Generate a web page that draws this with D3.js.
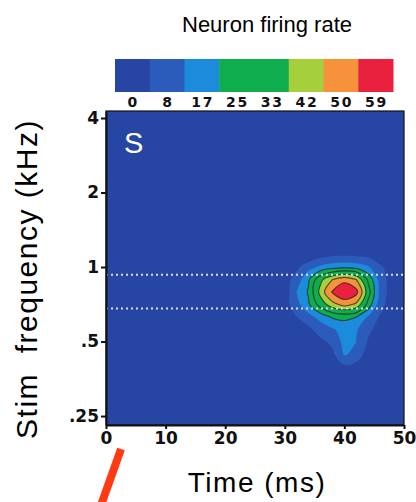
<!DOCTYPE html>
<html lang="en">
<head>
<meta charset="utf-8">
<title>Neuron firing rate</title>
<script src="https://cdn.jsdelivr.net/npm/d3@7"></script>
<style>
  body { margin: 0; background: #fff; }
  svg { display: block; font-family: "Liberation Sans", Arial, sans-serif; }
  .axis text, .legend text { font-family: "DejaVu Sans", sans-serif; font-weight: bold; fill: #111; }
</style>
</head>
<body>
<script>
// colour key
var legendLabels = [0, 8, 17, 25, 33, 42, 50, 59];
var legendColors = ["#2745a3", "#2b5cbb", "#1c8bdc", "#10ad4f", "#10ad4f", "#a6cf3c", "#f7923c", "#e9213f"];

// axes
var timeTicks = [0, 10, 20, 30, 40, 50];
var freqTicks = [4, 2, 1, 0.5, 0.25];

// dotted frequency band
var bandFreqs = [0.93, 0.68];

// firing rate grid (rows = frequency, cols = time)
var timeCols = [26, 28, 30, 32, 34, 36, 38, 40, 42, 44, 46, 48, 50];
var freqRows = [1.26, 1.122, 1.0, 0.891, 0.794, 0.707, 0.63, 0.561, 0.5, 0.445, 0.397, 0.354];
var rates = [
  [0, 0, 0, 0, 0, 0, 0, 0, 0, 0, 0, 0, 0],
  [0, 0, 0, 0, 0, 4, 6, 7, 6, 5, 0, 0, 0],
  [0, 0, 1, 6, 14, 19, 22, 23, 22, 18, 10, 2, 0],
  [0, 0, 4, 12, 24, 40, 50, 56, 50, 31, 14, 3, 0],
  [0, 0, 2, 17, 26, 45, 60, 68, 62, 37, 14, 3, 0],
  [0, 0, 4, 14, 24, 37, 47, 53, 48, 30, 12, 2, 0],
  [0, 0, 2, 8, 14, 20, 26, 27, 25, 16, 7, 0, 0],
  [0, 0, 0, 2, 6, 12, 16, 20, 18, 10, 4, 0, 0],
  [0, 0, 0, 0, 2, 6, 10, 20, 17, 7, 0, 0, 0],
  [0, 0, 0, 0, 0, 0, 6, 18, 14, 3, 0, 0, 0],
  [0, 0, 0, 0, 0, 0, 0, 6, 4, 0, 0, 0, 0],
  [0, 0, 0, 0, 0, 0, 0, 0, 0, 0, 0, 0, 0]
];

// red pointer below the axis, in (time, freq)
var pointerLine = [[2.52, 0.184], [-0.84, 0.109]];

var width = 416, height = 502;
var svg = d3.select("body").append("svg")
    .attr("width", width)
    .attr("height", height);

var x = d3.scaleLinear().domain([0, 50]).range([106, 404]);
var y = d3.scaleLog().base(2).domain([0.23, 4.27]).range([425, 111]);

// title
svg.append("text")
    .attr("x", 267).attr("y", 32)
    .attr("text-anchor", "middle")
    .attr("font-size", 22)
    .text("Neuron firing rate");

// legend
var lx = d3.scaleBand().domain(legendLabels).range([115, 393]);
var legend = svg.append("g").attr("class", "legend");
legend.selectAll("rect")
    .data(legendLabels)
    .enter().append("rect")
    .attr("x", function(d) { return lx(d); })
    .attr("y", 59)
    .attr("width", lx.bandwidth() + 0.5)
    .attr("height", 33)
    .attr("fill", function(d, i) { return legendColors[i]; });
legend.selectAll("text")
    .data(legendLabels)
    .enter().append("text")
    .attr("x", function(d) { return lx(d) + lx.bandwidth() / 2 + 1; })
    .attr("y", 107)
    .attr("text-anchor", "middle")
    .attr("font-size", 14)
    .attr("letter-spacing", 2)
    .text(function(d) { return d; });

// plot background
var plot = svg.append("g");
svg.append("clipPath").attr("id", "clip")
  .append("rect")
    .attr("x", x(0)).attr("y", y(4.27))
    .attr("width", x(50) - x(0)).attr("height", y(0.23) - y(4.27));

plot.append("rect")
    .attr("x", x(0)).attr("y", y(4.27))
    .attr("width", x(50) - x(0)).attr("height", y(0.23) - y(4.27))
    .attr("fill", legendColors[0]);

// contours
var nx = timeCols.length, ny = freqRows.length;
var flat = [];
rates.forEach(function(row) { row.forEach(function(v) { flat.push(v); }); });

var thresholds = legendLabels.slice(1);
var contours = d3.contours().size([nx, ny]).thresholds(thresholds)(flat);

var dt = timeCols[1] - timeCols[0];
var fr = freqRows[1] / freqRows[0];
function toPx(p) {
  var t = timeCols[0] + (p[0] - 0.5) * dt;
  var f = freqRows[0] * Math.pow(fr, p[1] - 0.5);
  return [x(t), y(f)];
}
var smooth = d3.line().curve(d3.curveCatmullRomClosed.alpha(0.5));
function contourPath(c) {
  var s = "";
  c.coordinates.forEach(function(poly) {
    poly.forEach(function(ring) {
      s += smooth(ring.slice(0, -1).map(toPx));
    });
  });
  return s;
}

var blob = plot.append("g").attr("clip-path", "url(#clip)");
blob.selectAll("path")
    .data(contours)
    .enter().append("path")
    .attr("d", contourPath)
    .attr("fill-rule", "evenodd")
    .attr("fill", function(d, i) { return legendColors[i + 1]; })
    .attr("stroke", function(d) { return d.value >= 25 ? "#1a2418" : "none"; })
    .attr("stroke-opacity", 0.75)
    .attr("stroke-width", 1.1)
    .attr("stroke-linejoin", "round");

// dotted band lines
plot.selectAll(".band")
    .data(bandFreqs)
    .enter().append("line")
    .attr("class", "band")
    .attr("x1", x(0)).attr("x2", x(50))
    .attr("y1", function(d) { return y(d); })
    .attr("y2", function(d) { return y(d); })
    .attr("stroke", "#dcdcf6")
    .attr("stroke-width", 2)
    .attr("stroke-dasharray", "2,3");

// panel letter
svg.append("text")
    .attr("x", x(0) + 18).attr("y", y(4.27) + 42)
    .attr("fill", "#fff")
    .attr("font-size", 29)
    .text("S");

// frame
svg.append("rect")
    .attr("x", x(0)).attr("y", y(4.27))
    .attr("width", x(50) - x(0)).attr("height", y(0.23) - y(4.27))
    .attr("fill", "none")
    .attr("stroke", "#111")
    .attr("stroke-width", 1.2);

// axes
var fmt = function(d) { return String(d).replace(/^0\./, "."); };
svg.append("g")
    .attr("class", "axis")
    .attr("transform", "translate(" + x(0) + ",0)")
    .call(d3.axisLeft(y).tickValues(freqTicks).tickFormat(fmt).tickSize(5).tickSizeOuter(0).tickPadding(2));
svg.append("g")
    .attr("class", "axis")
    .attr("transform", "translate(0," + y(0.23) + ")")
    .call(d3.axisBottom(x).tickValues(timeTicks).tickSize(4).tickSizeOuter(0).tickPadding(3));
svg.selectAll(".axis text").attr("font-size", 17);
svg.selectAll(".axis path, .axis line").attr("stroke", "#111").attr("stroke-width", 2);

// axis titles
svg.append("text")
    .attr("x", 257).attr("y", 492)
    .attr("text-anchor", "middle")
    .attr("font-size", 28)
    .attr("letter-spacing", 1.5)
    .text("Time (ms)");

svg.append("text")
    .attr("transform", "translate(37,279) rotate(-90)")
    .attr("text-anchor", "middle")
    .attr("font-size", 30)
    .attr("letter-spacing", 1.5)
    .attr("xml:space", "preserve")
    .style("white-space", "pre")
    .text("Stim  frequency (kHz)");

// red pointer
svg.append("path")
    .attr("d", d3.line().x(function(d) { return x(d[0]); }).y(function(d) { return y(d[1]); })(pointerLine))
    .attr("stroke", "#ff3a12")
    .attr("stroke-width", 8)
    .attr("fill", "none");
</script>
</body>
</html>
